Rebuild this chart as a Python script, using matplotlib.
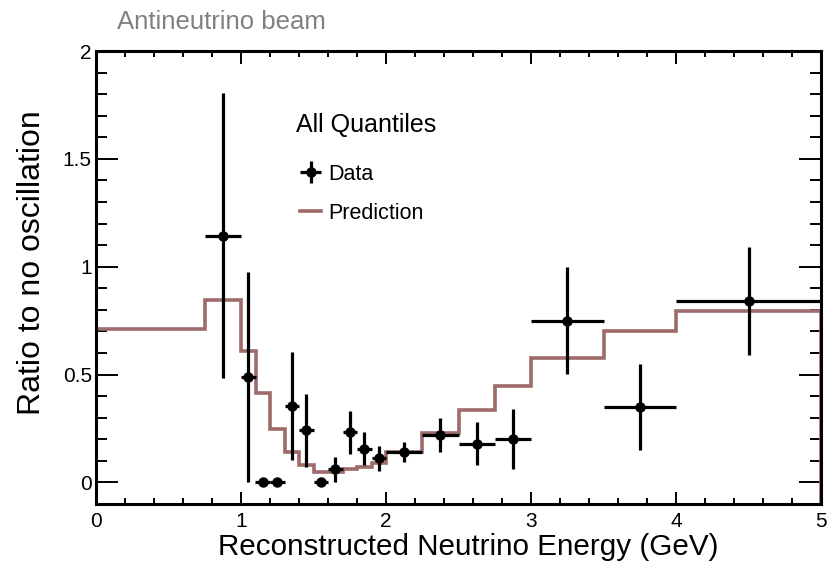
import numpy as np
import matplotlib
matplotlib.use("Agg")
from matplotlib import pyplot as plt
from matplotlib.ticker import MultipleLocator

plt.rcParams['font.family'] = ['Liberation Sans', 'DejaVu Sans']

# prediction histogram (bin edges and content)
pred_edges = [0, 0.75, 1.0, 1.1, 1.2, 1.3, 1.4, 1.5, 1.6, 1.7, 1.8, 1.9, 2.0,
              2.25, 2.5, 2.75, 3.0, 3.5, 4.0, 5.0]
pred_vals = [0.71, 0.845, 0.61, 0.415, 0.25, 0.14, 0.08, 0.048, 0.048, 0.06,
             0.073, 0.088, 0.14, 0.23, 0.335, 0.445, 0.577, 0.70, 0.793]

# data points
data_x = [0.875, 1.05, 1.15, 1.25, 1.35, 1.45, 1.55, 1.65, 1.75, 1.85, 1.95,
          2.125, 2.375, 2.625, 2.875, 3.25, 3.75, 4.5]
data_xerr = [0.125, 0.05, 0.05, 0.05, 0.05, 0.05, 0.05, 0.05, 0.05, 0.05, 0.05,
             0.125, 0.125, 0.125, 0.125, 0.25, 0.25, 0.5]
data_y = [1.143, 0.489, 0.0, 0.0, 0.353, 0.242, 0.0, 0.06, 0.233, 0.157, 0.111,
          0.142, 0.219, 0.18, 0.202, 0.75, 0.35, 0.84]
data_yerr = [0.66, 0.485, 0.0, 0.0, 0.25, 0.17, 0.0, 0.06, 0.1, 0.077, 0.06,
             0.046, 0.08, 0.1, 0.14, 0.247, 0.2, 0.25]

pred_color = "#9e6a6a"

fig = plt.figure(figsize=(8.27, 5.62), dpi=100)
ax = fig.add_axes([96/827, 1-504/562, 725/827, 453/562])

ymin, ymax = -0.1, 2.0

ax.stairs(pred_vals, pred_edges, baseline=ymin, color=pred_color, lw=2.6,
          label="Prediction", zorder=2)
ax.errorbar(data_x, data_y, xerr=data_xerr, yerr=data_yerr, fmt="o", color="black",
            ms=6.5, elinewidth=2.3, capsize=0, label="Data", zorder=3)

ax.set_xlim(0, 5)
ax.set_ylim(ymin, ymax)

ax.xaxis.set_major_locator(MultipleLocator(1))
ax.xaxis.set_minor_locator(MultipleLocator(0.2))
ax.yaxis.set_minor_locator(MultipleLocator(0.1))
ax.set_yticks([0, 0.5, 1, 1.5, 2])
ax.set_yticklabels(["0", "0.5", "1", "1.5", "2"])

ax.tick_params(axis="x", which="major", direction="in", length=9, width=1.4,
               top=True, labelsize=15, pad=6)
ax.tick_params(axis="x", which="minor", direction="in", length=4.5, width=1.4, top=True)
ax.tick_params(axis="y", which="major", direction="in", length=16, width=1.4,
               right=True, labelsize=15, pad=3)
ax.tick_params(axis="y", which="minor", direction="in", length=8, width=1.4, right=True)
for s in ax.spines.values():
    s.set_linewidth(2.2)

ax.set_xlabel("Reconstructed Neutrino Energy (GeV)", fontsize=21.3, labelpad=1)
ax.xaxis.label.set_x(0.514)
ax.set_ylabel("Ratio to no oscillation", fontsize=23, labelpad=11)
ax.yaxis.label.set_y(0.533)

fig.text(117/827, 1-29/562, "Antineutrino beam", fontsize=18.5, color="#808080")

# legend header and entries
ax.text(0.276, 0.822, "All Quantiles", fontsize=18, transform=ax.transAxes,
        va="baseline", ha="left")
handles, labels = ax.get_legend_handles_labels()
leg = ax.legend(handles[::-1], labels[::-1], fontsize=15.5, frameon=False,
                loc="upper left", bbox_to_anchor=(0.2546, 0.794),
                handlelength=1.0, handletextpad=0.3, labelspacing=0.85)

fig.savefig("out.png", dpi=100)
